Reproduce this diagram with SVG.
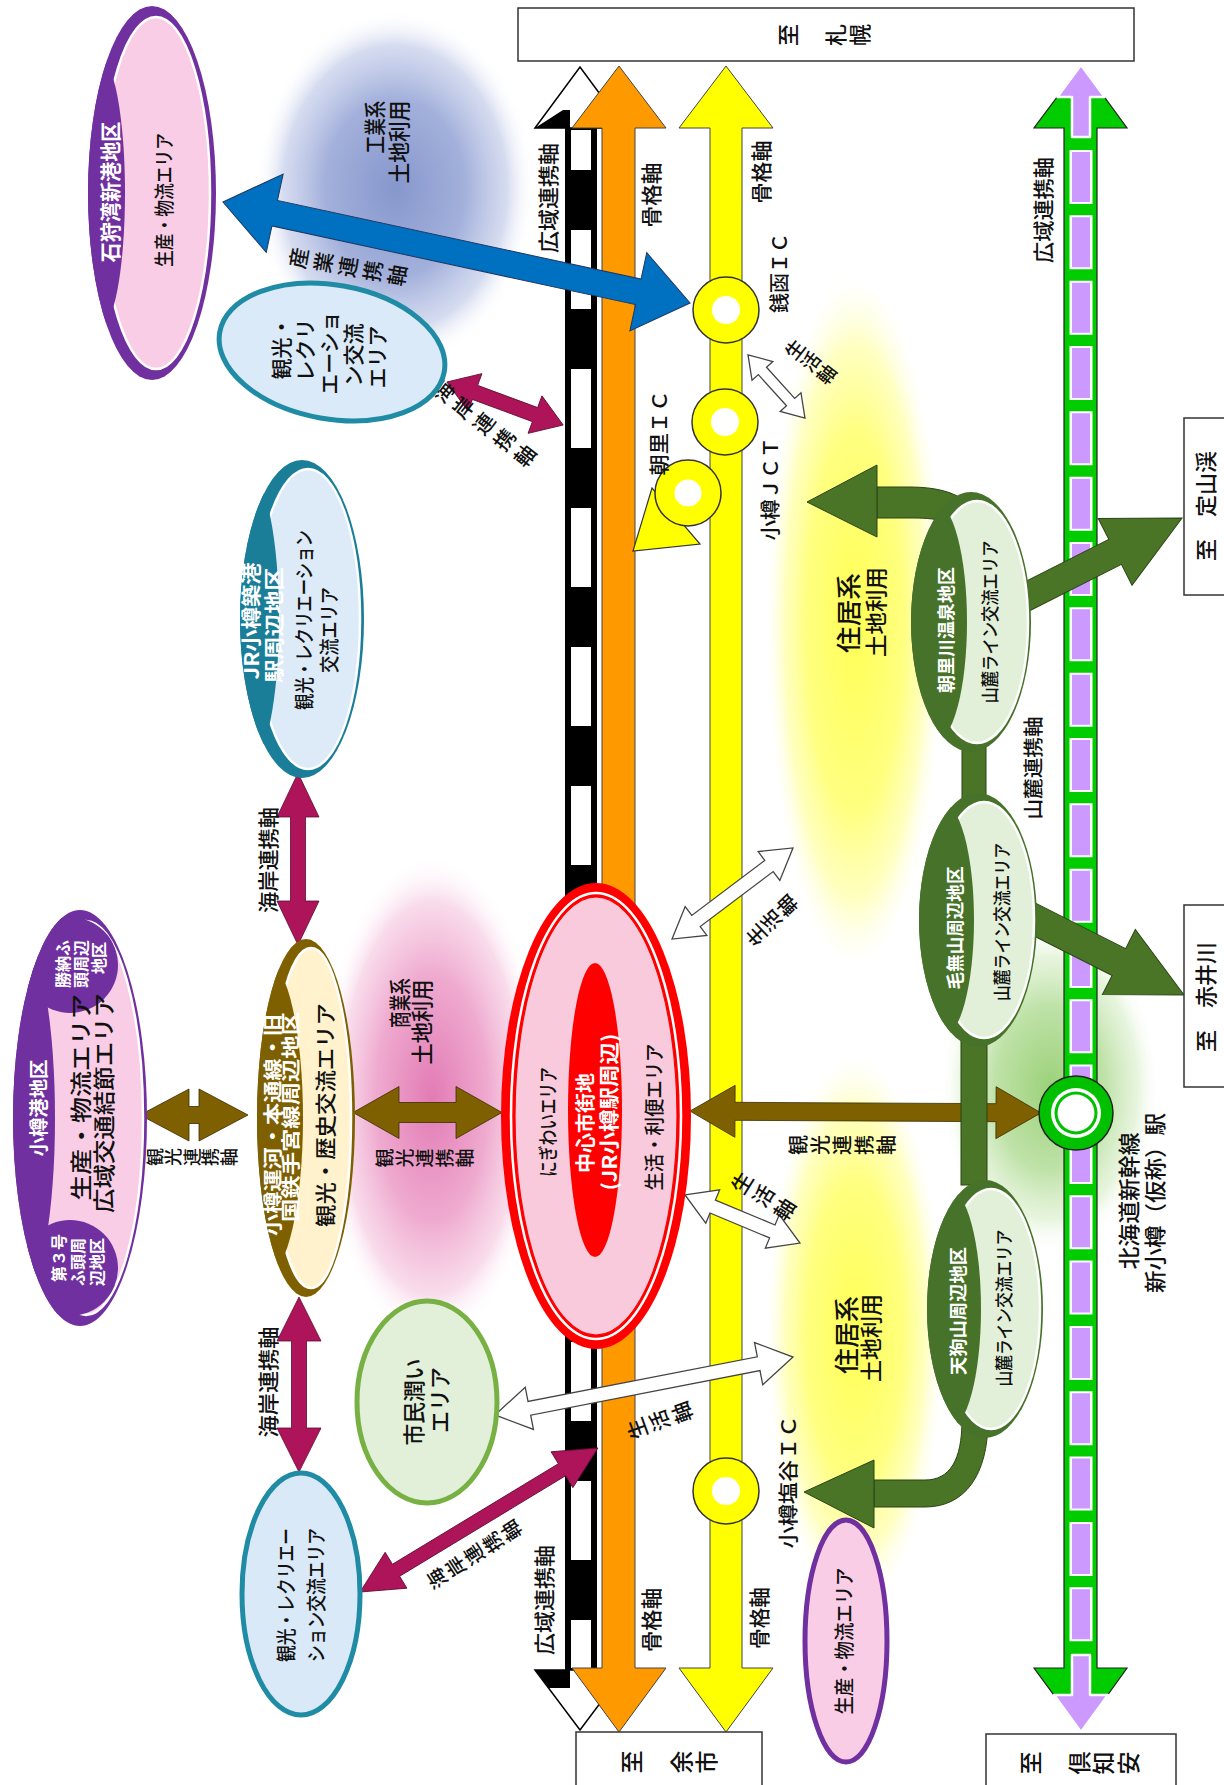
<svg xmlns="http://www.w3.org/2000/svg" width="1224" height="1785" viewBox="0 0 1224 1785">
<defs>
<style>
text{font-family:"Noto Sans CJK JP","Noto Sans CJK SC",sans-serif;font-weight:500;}
.r{text-anchor:middle;dominant-baseline:central;fill:#111;}
.wb{fill:#fff;font-weight:bold;}
.v{writing-mode:vertical-rl;text-anchor:middle;fill:#111;}
.bx{fill:#fff;stroke:#333;stroke-width:1.5;}
.mag{fill:#AE1459;stroke:#5e0b31;stroke-width:0.8;}
.brn{fill:#7F6000;stroke:#3b2c00;stroke-width:0.8;}
.wht{fill:#fff;stroke:#444;stroke-width:1.3;}
.dg{fill:#4A7526;stroke:#2b4515;stroke-width:1;}
.ic{fill:#FFFF00;stroke:#333;stroke-width:1.5;}
.ring{stroke:#fff;stroke-width:2.5;}
</style>
<radialGradient id="gBlue"><stop offset="0" stop-color="#8697CC"/><stop offset="0.5" stop-color="#A3B0DB"/><stop offset="0.8" stop-color="#CBD3EC" stop-opacity="0.8"/><stop offset="1" stop-color="#fff" stop-opacity="0"/></radialGradient>
<radialGradient id="gPink"><stop offset="0" stop-color="#E27BB5"/><stop offset="0.5" stop-color="#EFAACF"/><stop offset="0.8" stop-color="#F7D2E6" stop-opacity="0.8"/><stop offset="1" stop-color="#fff" stop-opacity="0"/></radialGradient>
<radialGradient id="gYel"><stop offset="0" stop-color="#FFFF55"/><stop offset="0.55" stop-color="#FFFF80"/><stop offset="0.8" stop-color="#FFFFB0" stop-opacity="0.8"/><stop offset="1" stop-color="#FFFFE0" stop-opacity="0"/></radialGradient>
<radialGradient id="gGrn"><stop offset="0" stop-color="#9BD179"/><stop offset="0.5" stop-color="#BFE2A8"/><stop offset="0.8" stop-color="#DDF0D0" stop-opacity="0.7"/><stop offset="1" stop-color="#fff" stop-opacity="0"/></radialGradient>
<clipPath id="cIshi"><ellipse cx="152" cy="193" rx="64" ry="187"/></clipPath>
<clipPath id="cJR"><ellipse cx="302" cy="619" rx="62" ry="159"/></clipPath>
<clipPath id="cPort"><ellipse cx="80" cy="1118" rx="67" ry="208"/></clipPath>
<clipPath id="cCanal"><ellipse cx="306" cy="1118" rx="49" ry="179"/></clipPath>
<clipPath id="cAsa"><ellipse cx="971" cy="622" rx="60" ry="130"/></clipPath>
<clipPath id="cKena"><ellipse cx="978" cy="920" rx="59" ry="127"/></clipPath>
<clipPath id="cTen"><ellipse cx="985" cy="1309" rx="58" ry="129"/></clipPath>
</defs>
<rect width="1224" height="1785" fill="#fff"/>

<g id="landuse">
<ellipse cx="395" cy="188" rx="140" ry="178" fill="url(#gBlue)"/>
<ellipse cx="432" cy="1098" rx="112" ry="245" fill="url(#gPink)"/>
<ellipse cx="855" cy="622" rx="88" ry="345" fill="url(#gYel)"/>
<ellipse cx="855" cy="1332" rx="88" ry="275" fill="url(#gYel)"/>
<ellipse cx="1050" cy="1088" rx="110" ry="165" fill="url(#gGrn)"/>
<text class="r" font-size="22" textLength="53" lengthAdjust="spacingAndGlyphs" transform="translate(373,127) rotate(-90)">工業系</text>
<text class="r" font-size="22" textLength="83" lengthAdjust="spacingAndGlyphs" transform="translate(397,142) rotate(-90)">土地利用</text>
<text class="r" font-size="22" textLength="50" lengthAdjust="spacingAndGlyphs" transform="translate(398,1003) rotate(-90)">商業系</text>
<text class="r" font-size="22" textLength="85" lengthAdjust="spacingAndGlyphs" transform="translate(420,1022) rotate(-90)">土地利用</text>
<text class="r" font-size="25" textLength="80" lengthAdjust="spacingAndGlyphs" transform="translate(847,613) rotate(-90)">住居系</text>
<text class="r" font-size="22" textLength="90" lengthAdjust="spacingAndGlyphs" transform="translate(874,612) rotate(-90)">土地利用</text>
<text class="r" font-size="25" textLength="78" lengthAdjust="spacingAndGlyphs" transform="translate(845,1335) rotate(-90)">住居系</text>
<text class="r" font-size="22" textLength="88" lengthAdjust="spacingAndGlyphs" transform="translate(869,1338) rotate(-90)">土地利用</text>
</g>

<g id="axes">
<rect x="565" y="126" width="32" height="1546" fill="#000"/>
<line x1="581" y1="130" x2="581" y2="1668" stroke="#fff" stroke-width="20" stroke-dasharray="79 60" stroke-dashoffset="39"/>
<polygon points="535,128 580,67 625,128" fill="#fff" stroke="#000" stroke-width="1.5"/>
<polygon points="535,128 563,110 570,110 570,128" fill="#000"/>
<polygon points="535,1670 580,1730 625,1670" fill="#fff" stroke="#000" stroke-width="1.5"/>
<polygon points="535,1670 570,1670 570,1688 549,1688" fill="#000"/>
<polygon points="602,128 572,128 619,66 666,128 635,128 635,1668 666,1668 619,1732 572,1668 602,1668" fill="#FF9900" stroke="#444" stroke-width="1"/>
<polygon points="710,128 679,128 726,66 773,128 742,128 742,1668 773,1668 726,1732 679,1668 710,1668" fill="#FFFF00" stroke="#444" stroke-width="1"/>
<polygon points="1064,128 1034,128 1081,65 1127,128 1097,128 1097,1668 1127,1668 1081,1732 1034,1668 1064,1668" fill="#00CC00" stroke="#222" stroke-width="1.2"/>
<polygon points="1057.4,97 1081,65 1104.6,97 1090,97 1090,137 1072,137 1072,97" fill="#CC99FF" stroke="#fff" stroke-width="2.5" stroke-linejoin="round"/>
<polygon points="1072,1655 1090,1655 1090,1695 1107.9,1695 1081,1732 1054.1,1695 1072,1695" fill="#CC99FF" stroke="#fff" stroke-width="2.5" stroke-linejoin="round"/>
<line x1="1081" y1="150" x2="1081" y2="1642" stroke="#fff" stroke-width="23" stroke-dasharray="54 11.33"/>
<line x1="1081" y1="152" x2="1081" y2="1640" stroke="#CC99FF" stroke-width="18" stroke-dasharray="50 15.33"/>
<text class="r" font-size="21" textLength="110" lengthAdjust="spacingAndGlyphs" transform="translate(547,198) rotate(-90)">広域連携軸</text>
<text class="r" font-size="21" textLength="110" lengthAdjust="spacingAndGlyphs" transform="translate(543,1600) rotate(-90)">広域連携軸</text>
<text class="r" font-size="21" textLength="106" lengthAdjust="spacingAndGlyphs" transform="translate(1042,210) rotate(-90)">広域連携軸</text>
<text class="r" font-size="21" textLength="65" lengthAdjust="spacingAndGlyphs" transform="translate(650,195) rotate(-90)">骨格軸</text>
<text class="r" font-size="21" textLength="63" lengthAdjust="spacingAndGlyphs" transform="translate(760,172) rotate(-90)">骨格軸</text>
<text class="r" font-size="21" textLength="64" lengthAdjust="spacingAndGlyphs" transform="translate(650,1620) rotate(-90)">骨格軸</text>
<text class="r" font-size="21" textLength="62" lengthAdjust="spacingAndGlyphs" transform="translate(758,1618) rotate(-90)">骨格軸</text>
<text class="r" font-size="20" textLength="103" lengthAdjust="spacingAndGlyphs" transform="translate(1032,768) rotate(-90)">山麓連携軸</text>
</g>

<g id="connectors">
<polygon class="brn" transform="translate(194,1115)" points="-54,0 -5,-26 -5,-8.5 5,-8.5 5,-26 54,0 5,26 5,8.5 -5,8.5 -5,26"/>
<polygon class="brn" transform="translate(427.5,1112.5)" points="-74.5,0 -28.5,-26 -28.5,-10 28.5,-10 28.5,-26 74.5,0 28.5,26 28.5,10 -28.5,10 -28.5,26"/>
<polygon class="brn" transform="translate(865.5,1112) rotate(0.3)" points="-175.5,0 -130.5,-26 -130.5,-9 130.5,-9 130.5,-26 175.5,0 130.5,26 130.5,9 -130.5,9 -130.5,26"/>
<polygon class="mag" transform="translate(505,403.5) rotate(20.3)" points="-62,0 -32,-20 -32,-7.5 32,-7.5 32,-20 62,0 32,20 32,7.5 -32,7.5 -32,20"/>
<polygon class="mag" transform="translate(298,859) rotate(90)" points="-86,0 -42,-21 -42,-7.5 42,-7.5 42,-21 86,0 42,21 42,7.5 -42,7.5 -42,21"/>
<polygon class="mag" transform="translate(299,1384.5) rotate(90)" points="-87.5,0 -43.5,-22 -43.5,-7.5 43.5,-7.5 43.5,-22 87.5,0 43.5,22 43.5,7.5 -43.5,7.5 -43.5,22"/>
<polygon class="mag" transform="translate(479,1520) rotate(-31.2)" points="-139,0 -97,-21 -97,-7 97,-7 97,-21 139,0 97,21 97,7 -97,7 -97,21"/>
<polygon fill="#0070C0" stroke="#1F3864" stroke-width="1" transform="translate(456.5,252.5) rotate(12.2)" points="-239,0 -186,-40 -186,-13 186,-13 186,-40 239,0 186,40 186,13 -186,13 -186,40"/>
<polygon class="wht" transform="translate(776.5,386.5) rotate(47.9)" points="-42.5,0 -21,-14 -21,-5.5 21,-5.5 21,-14 42.5,0 21,14 21,5.5 -21,5.5 -21,14"/>
<polygon class="wht" transform="translate(732.5,893.5) rotate(-37)" points="-75.7,0 -45.7,-18 -45.7,-7 45.7,-7 45.7,-18 75.7,0 45.7,18 45.7,7 -45.7,7 -45.7,18"/>
<polygon class="wht" transform="translate(742.5,1219) rotate(22.7)" points="-62.3,0 -32.3,-18 -32.3,-7 32.3,-7 32.3,-18 62.3,0 32.3,18 32.3,7 -32.3,7 -32.3,18"/>
<polygon class="wht" transform="translate(644,1386) rotate(-11)" points="-151.8,0 -116.8,-21.5 -116.8,-7 116.8,-7 116.8,-21.5 151.8,0 116.8,21.5 116.8,7 -116.8,7 -116.8,21.5"/>
<polygon class="dg" transform="translate(1096,561.5) rotate(-26.8)" points="-96.4,-14 21.4,-14 21.4,-37.5 96.4,0 21.4,37.5 21.4,14 -96.4,14"/>
<polygon class="dg" transform="translate(1097,951) rotate(26.8)" points="-97.5,-15 24.5,-15 24.5,-36.5 97.5,0 24.5,36.5 24.5,15 -97.5,15"/>
<path class="dg" d="M877,487 L910,487 C935,487 955,492 966,502 L945,522 C935,518 920,518 910,518 L877,518 Z"/>
<polygon class="dg" points="807,502 877,465 877,537"/>
<path class="dg" d="M874,1480 L925,1480 C950,1480 962,1460 962,1420 L988,1420 C988,1475 965,1507 925,1507 L874,1507 Z"/>
<polygon class="dg" points="804,1492 874,1460 874,1528"/>
<rect class="dg" x="962" y="745" width="24" height="55"/>
<rect class="dg" x="961" y="1040" width="26" height="145"/>
<polygon points="652,488 633,551 700,544" fill="#FFFF00" stroke="#333" stroke-width="1.2"/>
<text class="v" font-size="21" letter-spacing="4" transform="translate(350,267) rotate(-80)">産業連携軸</text>
<text class="v" font-size="21" letter-spacing="5" transform="translate(486,425) rotate(-52)">海岸連携軸</text>
<text class="v" font-size="19" letter-spacing="1" transform="translate(811,362) rotate(-52)">生活軸</text>
<text class="v" font-size="20" letter-spacing="1.5" transform="translate(772,920) rotate(-134)">生活軸</text>
<text class="v" font-size="21" letter-spacing="4" transform="translate(765,1197) rotate(-58)">生活軸</text>
<text class="v" font-size="21" letter-spacing="3" transform="translate(661,1420) rotate(-110)">生活軸</text>
<text class="v" font-size="20" letter-spacing="2" transform="translate(475,1554) rotate(-123)">海岸連携軸</text>
<text class="v" font-size="18" letter-spacing="0.5" transform="translate(192,1157) rotate(-90)">観光連携軸</text>
<text class="v" font-size="19" letter-spacing="1" transform="translate(425,1158) rotate(-90)">観光連携軸</text>
<text class="v" font-size="20" letter-spacing="2" transform="translate(843,1145) rotate(-90)">観光連携軸</text>
<text class="r" font-size="21" textLength="106" lengthAdjust="spacingAndGlyphs" transform="translate(267,860) rotate(-90)">海岸連携軸</text>
<text class="r" font-size="21" textLength="111" lengthAdjust="spacingAndGlyphs" transform="translate(267,1382) rotate(-90)">海岸連携軸</text>
</g>

<g id="ic-zenibako"><circle class="ic" cx="726" cy="310" r="33"/><circle cx="726" cy="310" r="14" fill="#fff"/>
<text class="r" font-size="20" textLength="80" lengthAdjust="spacingAndGlyphs" transform="translate(778,273) rotate(-90)">銭函ＩＣ</text></g>
<g id="ic-otaru-jct"><circle class="ic" cx="725" cy="422" r="33"/><circle cx="725" cy="422" r="14" fill="#fff"/>
<text class="r" font-size="20" textLength="103" lengthAdjust="spacingAndGlyphs" transform="translate(769,489) rotate(-90)">小樽ＪＣＴ</text></g>
<g id="ic-asari"><circle class="ic" cx="688" cy="493" r="33"/><circle cx="688" cy="493" r="13.5" fill="#fff"/>
<text class="r" font-size="20" textLength="85" lengthAdjust="spacingAndGlyphs" transform="translate(658,433) rotate(-90)">朝里ＩＣ</text></g>
<g id="ic-shioya"><circle class="ic" cx="726" cy="1491" r="33"/><circle cx="726" cy="1491" r="14" fill="#fff"/>
<text class="r" font-size="20" textLength="133" lengthAdjust="spacingAndGlyphs" transform="translate(787,1482) rotate(-90)">小樽塩谷ＩＣ</text></g>

<g id="station-shin-otaru">
<circle cx="1076" cy="1113" r="37" fill="#00C000" stroke="#222" stroke-width="1.5"/>
<circle cx="1076" cy="1113" r="25" fill="#fff"/>
<circle cx="1076" cy="1113" r="21.5" fill="#00C000"/>
<circle cx="1076" cy="1113" r="18.5" fill="#fff"/>
<text class="r" font-size="22" textLength="137" lengthAdjust="spacingAndGlyphs" transform="translate(1127,1201) rotate(-90)">北海道新幹線</text>
<text class="r" font-size="22" textLength="180" lengthAdjust="spacingAndGlyphs" transform="translate(1153,1203) rotate(-90)">新小樽（仮称）駅</text>
</g>

<g id="n-ishikari">
<ellipse cx="152" cy="193" rx="64" ry="187" fill="#7030A0"/>
<ellipse class="ring" cx="156" cy="193" rx="54" ry="176" fill="#F9CDE5"/>
<ellipse cx="100" cy="193" rx="25" ry="135" fill="#7030A0" clip-path="url(#cIshi)"/>
<text class="r wb" font-size="21" textLength="141" lengthAdjust="spacingAndGlyphs" transform="translate(109,192) rotate(-90)">石狩湾新港地区</text>
<text class="r" font-size="20" textLength="134" lengthAdjust="spacingAndGlyphs" transform="translate(163,200) rotate(-90)">生産・物流エリア</text>
</g>

<g id="n-tourism-north">
<ellipse cx="332" cy="352" rx="114" ry="67" transform="rotate(10 332 352)" fill="#DAEAF8" stroke="#1F8BA5" stroke-width="5"/>
<text class="r" font-size="21" transform="translate(280,348) rotate(-90)">観光・</text>
<text class="r" font-size="21" transform="translate(304,350) rotate(-90)">レクリ</text>
<text class="r" font-size="21" transform="translate(328,353) rotate(-90)">エーショ</text>
<text class="r" font-size="21" transform="translate(352,355) rotate(-90)">ン交流</text>
<text class="r" font-size="21" transform="translate(376,357) rotate(-90)">エリア</text>
</g>

<g id="n-jr-chikko">
<ellipse cx="302" cy="619" rx="62" ry="159" fill="#1A7E98"/>
<ellipse class="ring" cx="308" cy="619" rx="52" ry="150" fill="#DCEBF7"/>
<ellipse cx="249" cy="619" rx="30" ry="145" fill="#1A7E98" clip-path="url(#cJR)"/>
<text class="r wb" font-size="20" textLength="117" lengthAdjust="spacingAndGlyphs" transform="translate(250,621) rotate(-90)">JR小樽築港</text>
<text class="r wb" font-size="20" textLength="115" lengthAdjust="spacingAndGlyphs" transform="translate(273,625) rotate(-90)">駅周辺地区</text>
<text class="r" font-size="20" textLength="180" lengthAdjust="spacingAndGlyphs" transform="translate(303,620) rotate(-90)">観光・レクリエーション</text>
<text class="r" font-size="20" textLength="86" lengthAdjust="spacingAndGlyphs" transform="translate(328,630) rotate(-90)">交流エリア</text>
</g>

<g id="n-otaru-port">
<ellipse cx="80" cy="1118" rx="67" ry="208" fill="#7030A0"/>
<ellipse class="ring" cx="86" cy="1118" rx="57" ry="197" fill="#F9CDE5"/>
<g clip-path="url(#cPort)" fill="#7030A0">
<ellipse cx="25" cy="1118" rx="30" ry="170"/>
<circle cx="70" cy="965" r="48"/>
<circle cx="70" cy="1268" r="48"/>
</g>
<text class="r wb" font-size="19" textLength="97" lengthAdjust="spacingAndGlyphs" transform="translate(37,1108) rotate(-90)">小樽港地区</text>
<text class="r wb" font-size="16" transform="translate(62,964) rotate(-90)">勝納ふ</text>
<text class="r wb" font-size="16" transform="translate(80,964) rotate(-90)">頭周辺</text>
<text class="r wb" font-size="16" transform="translate(98,958) rotate(-90)">地区</text>
<text class="r wb" font-size="16" transform="translate(58,1258) rotate(-90)">第３号</text>
<text class="r wb" font-size="16" transform="translate(77,1262) rotate(-90)">ふ頭周</text>
<text class="r wb" font-size="16" transform="translate(96,1262) rotate(-90)">辺地区</text>
<text class="r" font-size="22" textLength="207" lengthAdjust="spacingAndGlyphs" transform="translate(79,1097) rotate(-90)">生産・物流エリア</text>
<text class="r" font-size="22" textLength="220" lengthAdjust="spacingAndGlyphs" transform="translate(102,1103) rotate(-90)">広域交通結節エリア</text>
</g>

<g id="n-canal">
<ellipse cx="306" cy="1118" rx="49" ry="179" fill="#7F6000"/>
<ellipse class="ring" cx="311" cy="1118" rx="40" ry="170" fill="#FFF2CC"/>
<ellipse cx="268" cy="1118" rx="35" ry="155" fill="#7F6000" clip-path="url(#cCanal)"/>
<text class="r wb" font-size="19" textLength="222" lengthAdjust="spacingAndGlyphs" transform="translate(271,1125) rotate(-90)">小樽運河・本通線・旧</text>
<text class="r wb" font-size="19" textLength="210" lengthAdjust="spacingAndGlyphs" transform="translate(289,1117) rotate(-90)">国鉄手宮線周辺地区</text>
<text class="r" font-size="21" textLength="224" lengthAdjust="spacingAndGlyphs" transform="translate(324,1115) rotate(-90)">観光・歴史交流エリア</text>
</g>

<g id="n-center">
<ellipse cx="596" cy="1116" rx="95" ry="233" fill="#FF0000"/>
<ellipse cx="596" cy="1116" rx="85" ry="223" fill="none" stroke="#fff" stroke-width="2.5"/>
<ellipse cx="596" cy="1116" rx="81" ry="219" fill="#F9CADB" stroke="#FF0000" stroke-width="1.2"/>
<ellipse cx="595" cy="1110" rx="27" ry="147" fill="#FF0000"/>
<text class="r" font-size="20" textLength="110" lengthAdjust="spacingAndGlyphs" transform="translate(547,1122) rotate(-90)">にぎわいエリア</text>
<text class="r wb" font-size="20" textLength="100" lengthAdjust="spacingAndGlyphs" transform="translate(584,1123) rotate(-90)">中心市街地</text>
<text class="r wb" font-size="20" textLength="157" lengthAdjust="spacingAndGlyphs" transform="translate(608,1112) rotate(-90)">(JR小樽駅周辺)</text>
<text class="r" font-size="20" textLength="147" lengthAdjust="spacingAndGlyphs" transform="translate(653,1117) rotate(-90)">生活・利便エリア</text>
</g>

<g id="n-shimin">
<ellipse cx="427" cy="1402" rx="70" ry="101" fill="#E2EFD9" stroke="#77B043" stroke-width="5"/>
<text class="r" font-size="22" textLength="87" lengthAdjust="spacingAndGlyphs" transform="translate(412,1402) rotate(-90)">市民潤い</text>
<text class="r" font-size="22" transform="translate(438,1400) rotate(-90)">エリア</text>
</g>

<g id="n-tourism-south">
<ellipse cx="301" cy="1594" rx="59" ry="121" fill="#D9E9F8" stroke="#1F8BA5" stroke-width="5"/>
<text class="r" font-size="20" textLength="134" lengthAdjust="spacingAndGlyphs" transform="translate(285,1595) rotate(-90)">観光・レクリエー</text>
<text class="r" font-size="20" textLength="134" lengthAdjust="spacingAndGlyphs" transform="translate(315,1595) rotate(-90)">ション交流エリア</text>
</g>

<g id="n-logistics-south">
<ellipse cx="846" cy="1641" rx="41" ry="121" fill="#F9CDE5" stroke="#7030A0" stroke-width="5"/>
<text class="r" font-size="20" textLength="147" lengthAdjust="spacingAndGlyphs" transform="translate(843,1641) rotate(-90)">生産・物流エリア</text>
</g>

<g id="n-asarigawa">
<ellipse cx="971" cy="622" rx="60" ry="130" fill="#47722A"/>
<ellipse class="ring" cx="977" cy="622" rx="51" ry="121" fill="#E2F0D9"/>
<ellipse cx="935" cy="622" rx="32" ry="120" fill="#47722A" clip-path="url(#cAsa)"/>
<text class="r wb" font-size="18" textLength="126" lengthAdjust="spacingAndGlyphs" transform="translate(945,630) rotate(-90)">朝里川温泉地区</text>
<text class="r" font-size="18" textLength="163" lengthAdjust="spacingAndGlyphs" transform="translate(989,622) rotate(-90)">山麓ライン交流エリア</text>
</g>

<g id="n-kenashi">
<ellipse cx="978" cy="920" rx="59" ry="127" fill="#47722A"/>
<ellipse class="ring" cx="984" cy="920" rx="50" ry="118" fill="#E2F0D9"/>
<ellipse cx="942" cy="920" rx="32" ry="118" fill="#47722A" clip-path="url(#cKena)"/>
<text class="r wb" font-size="18" textLength="123" lengthAdjust="spacingAndGlyphs" transform="translate(954,928) rotate(-90)">毛無山周辺地区</text>
<text class="r" font-size="18" textLength="158" lengthAdjust="spacingAndGlyphs" transform="translate(1001,922) rotate(-90)">山麓ライン交流エリア</text>
</g>

<g id="n-tengu">
<ellipse cx="985" cy="1309" rx="58" ry="129" fill="#47722A"/>
<ellipse class="ring" cx="991" cy="1309" rx="49" ry="120" fill="#E2F0D9"/>
<ellipse cx="949" cy="1309" rx="32" ry="120" fill="#47722A" clip-path="url(#cTen)"/>
<text class="r wb" font-size="18" textLength="128" lengthAdjust="spacingAndGlyphs" transform="translate(957,1311) rotate(-90)">天狗山周辺地区</text>
<text class="r" font-size="18" textLength="157" lengthAdjust="spacingAndGlyphs" transform="translate(1003,1308) rotate(-90)">山麓ライン交流エリア</text>
</g>

<g id="dest-sapporo"><rect class="bx" x="518" y="8" width="616" height="53"/>
<text class="v" font-size="22" letter-spacing="2" transform="translate(825,35) rotate(-90)">至　札幌</text></g>
<g id="dest-yoichi"><rect class="bx" x="576" y="1732" width="186" height="60"/>
<text class="v" font-size="23" letter-spacing="2" transform="translate(670,1762) rotate(-90)">至　余市</text></g>
<g id="dest-kutchan"><rect class="bx" x="986" y="1734" width="190" height="60"/>
<text class="v" font-size="23" letter-spacing="1.5" transform="translate(1080,1763) rotate(-90)">至　倶知安</text></g>
<g id="dest-jozankei"><rect class="bx" x="1184" y="418" width="50" height="177"/>
<text class="r" font-size="22" transform="translate(1204,506) rotate(-90)">至　定山渓</text></g>
<g id="dest-akaigawa"><rect class="bx" x="1184" y="905" width="50" height="182"/>
<text class="r" font-size="22" transform="translate(1204,997) rotate(-90)">至　赤井川</text></g>
</svg>
